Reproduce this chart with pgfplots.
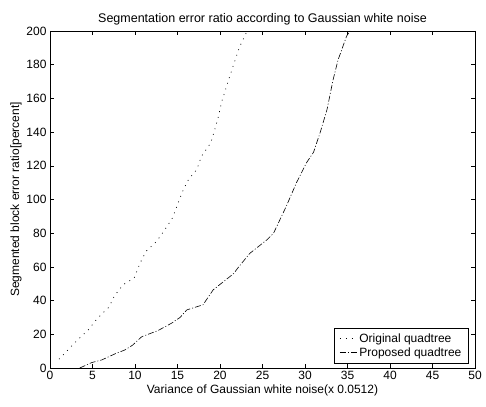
\documentclass[border=0pt]{standalone}
\usepackage{fontspec}
\setmainfont{Liberation Sans}
\usepackage{pgfplots}
\pgfplotsset{compat=1.18}

\begin{document}
\begin{tikzpicture}
\begin{axis}[
  scale only axis,
  width=425pt,
  height=337pt,
  xmin=0, xmax=50,
  ymin=0, ymax=200,
  xtick={0,5,...,50},
  ytick={0,20,...,200},
  tick align=inside,
  major tick length=4pt,
  tick style={black, line width=0.5pt},
  axis line style={black, line width=0.5pt},
  /pgf/number format/assume math mode=true,
  tick label style={font=\fontsize{12}{14}\selectfont},
  label style={font=\fontsize{12}{14}\selectfont},
  title style={font=\fontsize{12.5}{14}\selectfont, yshift=-4pt},
  title={Segmentation error ratio according to Gaussian white noise},
  xlabel={Variance of Gaussian white noise(x 0.0512)},
  ylabel={Segmented block error ratio[percent]},
  xlabel style={yshift=2pt},
  ylabel style={yshift=-2pt},
  legend style={at={(0.985,0.015)}, anchor=south east, draw=black,
    font=\fontsize{12}{14}\selectfont, cells={anchor=west},
    inner xsep=5pt, inner ysep=3pt, row sep=0pt},
  legend cell align=left,
]
\addplot[black, line width=0.7pt, dash pattern=on 0.9pt off 5pt] coordinates {
(1.06,5.2) (3.3,17) (4.5,22.6) (5.6,29.6) (6.9,35.9) (7.6,42.9)
(8.6,49.4) (9.9,53.4) (10.6,62.3) (11.3,69.2) (12.55,75.2) (13.5,82)
(14.4,89) (15.0,97) (15.7,106) (16.3,111.9) (17.3,118) (17.8,125.5)
(18.9,133.5) (19.3,140) (19.8,149) (20.2,158) (20.7,166) (21.2,174)
(21.8,183) (22.3,190.5) (23.1,199) (23.2,200)
};
\addlegendentry{Original quadtree}
\addplot[black, line width=0.6pt, dash pattern=on 6pt off 2pt on 1pt off 2pt] coordinates {
(3.5,0) (4.9,3.2) (6.1,4.8) (7.6,8.3) (8.8,10.7) (9.7,13.5) (10.8,18.6)
(12.7,22.2) (14.3,26.6) (15.3,30) (16.1,34.5) (18.0,37.5) (19.2,46.4)
(21.6,56) (22.2,60) (23.5,68) (25.5,76) (26.3,80) (27.8,96) (29.0,110)
(30.2,122) (31.0,128) (31.8,140) (32.6,153.6) (33.3,171) (33.9,183)
(34.9,197) (35.3,200)
};
\addlegendentry{Proposed quadtree}
\end{axis}
\useasboundingbox (-50pt,-38pt) rectangle (436pt,368pt);
\end{tikzpicture}
\end{document}
